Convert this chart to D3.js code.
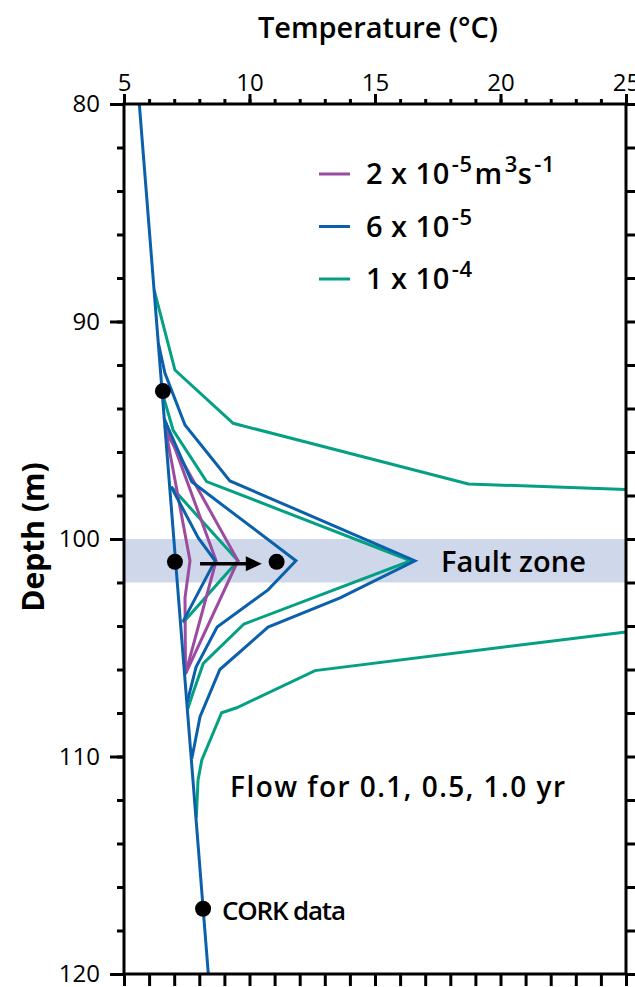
<!DOCTYPE html>
<html>
<head>
<meta charset="utf-8">
<script src="https://cdn.jsdelivr.net/npm/d3@7"></script>
<style>
  body { margin: 0; background: #fff; }
  svg { display: block; font-family: "Open Sans", sans-serif; }
</style>
</head>
<body>
<svg width="635" height="987"></svg>
<script>
// every point is [temperature (C), depth (m)]
var geotherm = [[5.61, 80], [8.36, 120]];

// 2 x 10-5 m3/s after 0.1, 0.5, 1.0 yr
var purple01 = [[6.63, 94.8], [7.63, 101], [7.43, 102.7], [7.45, 106.2]];
var purple05 = [[6.61, 94.5], [8.67, 101], [7.45, 106.2]];
var purple10 = [[6.64, 95], [9.54, 101], [7.45, 106.2]];

// 6 x 10-5
var blue01 = [[6.88, 97.6], [7.96, 99.95], [8.63, 101], [7.35, 103.8]];
var blue05 = [[6.61, 94.5], [7.70, 97.37], [11.85, 101], [10.74, 102.34], [8.71, 104.05], [7.87, 105.89], [7.52, 107.5]];
var blue10 = [[6.37, 91], [6.63, 92.37], [7.43, 94.76], [9.22, 97.33], [16.59, 101], [13.61, 102.71], [10.74, 104.05], [8.82, 106.0], [8.03, 108.17], [7.70, 110.1]];

// 1 x 10-4 (the 1.0 yr curve runs off the chart, null = gap)
var green01 = [[6.88, 97.6], [9.54, 101], [7.35, 103.85]];
var green05 = [[6.53, 93.3], [6.96, 95.0], [8.29, 97.36], [16.43, 101], [9.78, 103.91], [8.16, 105.72], [7.79, 106.94], [7.54, 107.8]];
var green10 = [[6.20, 88.55], [7.03, 92.23], [9.35, 94.68], [18.72, 97.47], [25, 97.72], null,
               [25, 104.27], [12.61, 106.05], [9.49, 107.76], [8.89, 107.99], [8.10, 110.16], [7.95, 111.08], [7.88, 112.8]];

var corkData = [[6.55, 93.2], [7.03, 101.05], [8.15, 117.0]];
var shifted = [[11.08, 101.05]];
var arrowFromTo = [8.03, 10.49];
var faultZone = [100, 102];

var xMajor = [5, 10, 15, 20, 25];
var yMajor = [80, 90, 100, 110, 120];

var svg = d3.select("svg"),
    pLeft = 124, pRight = 626, pTop = 104, pBottom = 974;

var x = d3.scaleLinear().domain([5, 25]).range([pLeft, pRight]);
var y = d3.scaleLinear().domain([80, 120]).range([pTop, pBottom]);

var colors = { purple: "#9b4ba0", blue: "#0b60ab", green: "#03a083" };

var groups = [
  { color: colors.green, curves: [green01, green05, green10] },
  { color: colors.purple, curves: [purple01, purple05, purple10] },
  { color: colors.blue, curves: [blue01, blue05, blue10] }
];

svg.append("defs").append("clipPath").attr("id", "plot")
  .append("rect")
    .attr("x", pLeft).attr("y", pTop)
    .attr("width", pRight - pLeft).attr("height", pBottom - pTop);

// fault zone band
svg.append("rect")
    .attr("x", pLeft)
    .attr("y", y(faultZone[0]))
    .attr("width", pRight - pLeft)
    .attr("height", y(faultZone[1]) - y(faultZone[0]))
    .attr("fill", "#cfd8ea");

var line = d3.line()
    .defined(function(d) { return d != null; })
    .x(function(d) { return x(d[0]); })
    .y(function(d) { return y(d[1]); });

var curves = svg.append("g").attr("clip-path", "url(#plot)");

groups.forEach(function(grp) {
  curves.selectAll(null)
    .data(grp.curves)
    .enter().append("path")
      .attr("d", line)
      .attr("fill", "none")
      .attr("stroke", grp.color)
      .attr("stroke-width", 3)
      .attr("stroke-linejoin", "miter");
});

curves.append("path")
    .attr("d", line(geotherm))
    .attr("fill", "none")
    .attr("stroke", colors.blue)
    .attr("stroke-width", 3);

// arrow and dots
var ay = y(corkData[1][1]) + 2;
svg.append("line")
    .attr("x1", x(arrowFromTo[0])).attr("x2", x(arrowFromTo[1]) - 12)
    .attr("y1", ay).attr("y2", ay)
    .attr("stroke", "#000").attr("stroke-width", 3.5);
svg.append("path")
    .attr("d", "M" + x(arrowFromTo[1]) + "," + ay + "l-16,-7.5v15z")
    .attr("fill", "#000");

svg.selectAll(".dot")
    .data(corkData.concat(shifted))
    .enter().append("circle")
      .attr("class", "dot")
      .attr("cx", function(d) { return x(d[0]); })
      .attr("cy", function(d) { return y(d[1]); })
      .attr("r", 8)
      .attr("fill", "#000");

// axes
function styleAxis(g) {
  g.select(".domain").remove();
  g.selectAll("line").attr("stroke", "#000").attr("stroke-width", 3);
  g.selectAll("text").attr("fill", "#000")
    .style("font-size", "24px").style("font-weight", 500)
    .style("font-family", "'Open Sans', sans-serif");
}

svg.append("g").attr("transform", "translate(0," + pTop + ")")
    .call(d3.axisTop(x).tickValues(d3.range(5, 26, 1)).tickSize(5).tickFormat(""))
    .call(styleAxis);
svg.append("g").attr("transform", "translate(0," + pTop + ")")
    .call(d3.axisTop(x).tickValues(xMajor).tickSize(10).tickPadding(3).tickFormat(d3.format("d")))
    .call(styleAxis);

svg.append("g").attr("transform", "translate(" + pLeft + ",0)")
    .call(d3.axisLeft(y).tickValues(d3.range(80, 121, 2)).tickSize(7).tickFormat(""))
    .call(styleAxis);
svg.append("g").attr("transform", "translate(" + pLeft + ",0)")
    .call(d3.axisLeft(y).tickValues(yMajor).tickSize(14).tickPadding(10).tickFormat(d3.format("d")))
    .call(styleAxis);

svg.append("g").attr("transform", "translate(" + pRight + ",0)")
    .call(d3.axisRight(y).tickValues(d3.range(80, 121, 2)).tickSize(10).tickFormat(""))
    .call(styleAxis);

svg.append("g").attr("transform", "translate(0," + pBottom + ")")
    .call(d3.axisBottom(x).tickValues(d3.range(5, 26, 1)).tickSize(12).tickFormat(""))
    .call(styleAxis);

svg.append("rect")
    .attr("x", pLeft).attr("y", pTop)
    .attr("width", pRight - pLeft).attr("height", pBottom - pTop)
    .attr("fill", "none")
    .attr("stroke", "#000")
    .attr("stroke-width", 3);

// titles
svg.append("text")
    .attr("x", 378).attr("y", 38)
    .attr("text-anchor", "middle")
    .style("font-size", "29px").style("font-weight", 600)
    .attr("textLength", 240)
    .text("Temperature (\u00B0C)");

svg.append("text")
    .attr("transform", "translate(44," + 537 + ") rotate(-90)")
    .attr("text-anchor", "middle")
    .style("font-size", "30px").style("font-weight", 700)
    .text("Depth (m)");

// legend
var legend = [
  { color: colors.purple, parts: [["2 x 10", 0], ["-5", 1], ["m", 0], ["3", 1], ["s", 0], ["-1", 1]] },
  { color: colors.blue, parts: [["6 x 10", 0], ["-5", 1]] },
  { color: colors.green, parts: [["1 x 10", 0], ["-4", 1]] }
];

var lg = svg.selectAll(".legend")
    .data(legend)
    .enter().append("g")
      .attr("class", "legend")
      .attr("transform", function(d, i) { return "translate(319," + (174 + i * 52.5) + ")"; });

lg.append("line")
    .attr("x1", 0).attr("x2", 31)
    .attr("stroke", function(d) { return d.color; })
    .attr("stroke-width", 3);

lg.append("text")
    .attr("x", 47).attr("y", 10)
    .style("font-size", "29px").style("font-weight", 600)
    .style("letter-spacing", "0.5px")
    .each(function(d) {
      var t = d3.select(this);
      d.parts.forEach(function(p, i) {
        var sp = t.append("tspan")
          .attr("dy", p[1] ? -12 : (i > 0 ? 12 : 0))
          .style("font-size", p[1] ? "22px" : "29px")
          .text(p[0]);
        if (p[1] || (i > 0 && p[0] != "s")) sp.attr("dx", 2);
      });
    });

// annotations
svg.append("text")
    .attr("x", 441).attr("y", 572)
    .style("font-size", "29px").style("font-weight", 600)
    .attr("textLength", 145)
    .text("Fault zone");

svg.append("text")
    .attr("x", 230).attr("y", 797)
    .style("font-size", "28px").style("font-weight", 600)
    .attr("textLength", 335)
    .text("Flow for 0.1, 0.5, 1.0 yr");

svg.append("text")
    .attr("x", 222).attr("y", 920)
    .style("font-size", "26px").style("font-weight", 600)
    .attr("textLength", 124)
    .text("CORK data");
</script>
</body>
</html>
